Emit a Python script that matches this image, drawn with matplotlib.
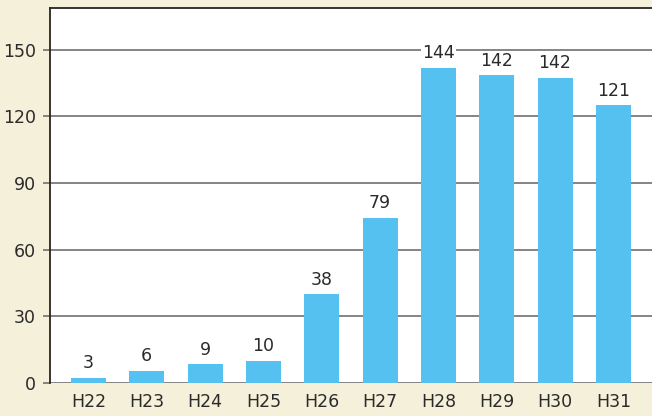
import matplotlib.pyplot as plt

years = ['H22', 'H23', 'H24', 'H25', 'H26', 'H27', 'H28', 'H29', 'H30', 'H31']
bar_heights = [2.3, 5.5, 8.5, 10, 40, 74.3, 141.8, 138.6, 137.3, 125.1]
bar_labels = ['3', '6', '9', '10', '38', '79', '144', '142', '142', '121']
y_ticks = [0, 30, 60, 90, 120, 150]

plt.rcParams['font.family'] = ['DejaVu Sans']

fig = plt.figure(figsize=(6.52, 4.16), dpi=100)
fig.patch.set_facecolor('#f5f0da')
ax = fig.add_axes([50 / 652, 33 / 416, 603 / 652, 375 / 416])
ax.set_facecolor('white')

x = range(len(years))
ax.bar(x, bar_heights, width=0.6, color='#55c1f0', zorder=3)

# value labels sit on a white patch so the gridline behind them breaks
for xi, h, lab in zip(x, bar_heights, bar_labels):
    ax.annotate(lab, (xi, h), xytext=(0, 4), textcoords='offset points',
                ha='center', va='bottom', fontsize=12.5, color='#2a2a2a', zorder=4,
                bbox=dict(boxstyle='square,pad=0.05', fc='white', ec='none'))

ax.set_xlim(-0.66, 9.68)
ax.set_ylim(0, 168.8)
ax.set_xticks(list(x))
ax.set_xticklabels(years)
ax.set_yticks(y_ticks)
ax.yaxis.grid(True, color='#707070', linewidth=1.2, zorder=1)
ax.tick_params(axis='x', length=0, pad=7, labelsize=12.5, labelcolor='#2a2a2a')
ax.tick_params(axis='y', length=5, width=1.2, color='#707070', pad=5,
               labelsize=12.5, labelcolor='#2a2a2a')

for side in ['right', 'bottom']:
    ax.spines[side].set_visible(False)
for side in ['left', 'top']:
    ax.spines[side].set_color('#2a2420')
    ax.spines[side].set_linewidth(1.3)

fig.savefig('out.png', dpi=100, facecolor=fig.get_facecolor())
